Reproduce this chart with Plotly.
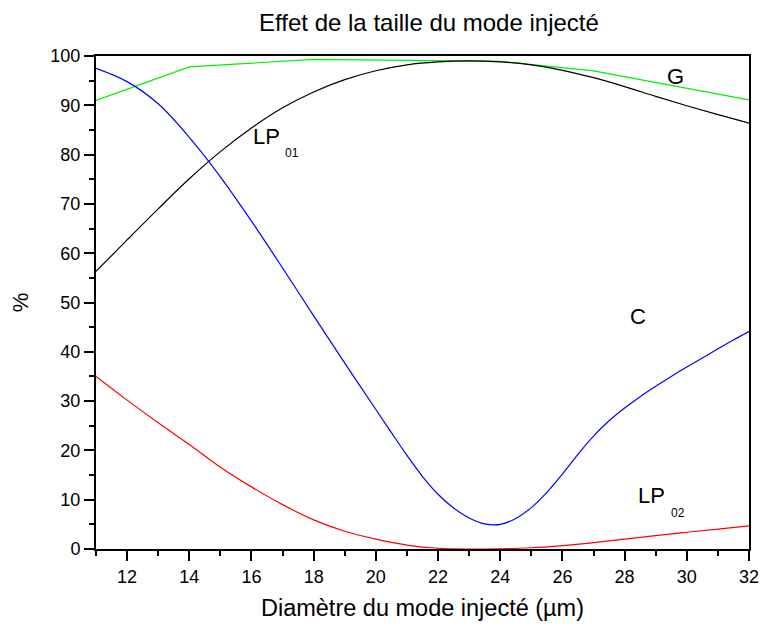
import plotly.graph_objects as go

# Diameter of the injected mode (µm) and the corresponding percentages
x_lp01 = [11, 12, 13, 14, 15, 16, 17, 18, 19, 20, 21, 22, 23, 24, 25, 26, 27, 28, 29, 30, 31, 32]
lp01 = [56.3, 62.7, 69.0, 75.1, 80.6, 85.4, 89.5, 92.7, 95.2, 97.0, 98.2, 98.8, 99.0, 98.8, 98.2, 97.1, 95.6, 93.8, 91.8, 89.9, 88.1, 86.4]

x_c = [11, 12, 13, 14, 15, 16, 17, 18, 19, 20, 20.5, 21, 21.5, 22, 22.5, 23, 23.5, 24, 24.5, 25, 25.5,
       26, 26.5, 27, 27.5, 28, 28.5, 29, 29.5, 30, 30.5, 31, 31.5, 32]
c = [97.5, 94.8, 90.3, 83.5, 75.5, 66.5, 57.0, 47.3, 37.7, 28.3, 23.6, 19.0, 14.7, 11.1, 8.3, 6.3, 5.1, 5.0, 6.2, 8.4, 11.5,
     15.2, 19.2, 22.9, 26.0, 28.6, 30.9, 33.0, 35.0, 36.9, 38.75, 40.6, 42.4, 44.1]

x_lp02 = [11, 12, 13, 14, 15, 16, 17, 18, 19, 20, 21, 22, 23, 24, 25, 26, 27, 28, 29, 30, 31, 32]
lp02 = [35.0, 30.2, 25.6, 21.2, 16.6, 12.6, 9.0, 5.9, 3.6, 2.0, 0.8, 0.15, 0.0, 0.05, 0.25, 0.7, 1.3, 2.0, 2.7, 3.4, 4.05, 4.7]

x_g = [11, 14, 18, 24, 27, 32]
g = [91.0, 97.8, 99.3, 98.9, 97.0, 91.1]

FONT = "Liberation Sans, Arial, sans-serif"

fig = go.Figure()
fig.add_trace(go.Scatter(x=x_g, y=g, mode="lines", line=dict(color="#00ee00", width=1.2), name="G"))
fig.add_trace(go.Scatter(x=x_lp01, y=lp01, mode="lines", line=dict(color="black", width=1.2, shape="spline"), name="LP01"))
fig.add_trace(go.Scatter(x=x_c, y=c, mode="lines", line=dict(color="#0000ff", width=1.2, shape="spline"), name="C"))
fig.add_trace(go.Scatter(x=x_lp02, y=lp02, mode="lines", line=dict(color="#ff0000", width=1.2, shape="spline"), name="LP02"))

lab = dict(color="black", family=FONT)
annotations = [
    dict(x=29.65, y=95.9, text="G", font=dict(size=22, **lab), xanchor="center", yanchor="middle"),
    dict(x=28.43, y=47.1, text="C", font=dict(size=22, **lab), xanchor="center", yanchor="middle"),
    dict(x=16.47, y=83.6, text="LP", font=dict(size=22, **lab), xanchor="center", yanchor="middle"),
    dict(x=17.0, y=80.3, text="01", font=dict(size=12, **lab), xanchor="left", yanchor="middle"),
    dict(x=28.87, y=10.85, text="LP", font=dict(size=22, **lab), xanchor="center", yanchor="middle"),
    dict(x=29.43, y=7.4, text="02", font=dict(size=12, **lab), xanchor="left", yanchor="middle"),
]
for a in annotations:
    a.update(xref="x", yref="y", showarrow=False)

axis_common = dict(
    showline=True, linecolor="black", linewidth=2, mirror=True,
    ticks="outside", ticklen=10, tickwidth=1.5, tickcolor="black",
    showgrid=False, zeroline=False, automargin=False,
    tickfont=dict(size=18, color="black", family=FONT),
)

fig.update_layout(
    width=761, height=626,
    margin=dict(l=96, r=12, t=56, b=77),
    paper_bgcolor="white", plot_bgcolor="white",
    showlegend=False,
    title=dict(text="Effet de la taille du mode injecté", x=0.5637, xanchor="center",
               y=1 - 23 / 626, yanchor="middle", yref="container",
               font=dict(size=24, color="black", family=FONT)),
    xaxis=dict(range=[11, 32], tick0=12, dtick=2,
               minor=dict(ticks="outside", ticklen=5, tickwidth=1.5, tickcolor="black", dtick=1, tick0=11),
               title=dict(text="Diamètre du mode injecté (µm)", standoff=14,
                          font=dict(size=23.5, color="black", family=FONT)),
               **axis_common),
    yaxis=dict(range=[0, 100], tick0=0, dtick=10,
               minor=dict(ticks="outside", ticklen=5, tickwidth=1.5, tickcolor="black", dtick=5),
               title=dict(text="%", standoff=16,
                          font=dict(size=22, color="black", family=FONT)),
               **axis_common),
    annotations=annotations,
)

fig.write_html("out.html")
